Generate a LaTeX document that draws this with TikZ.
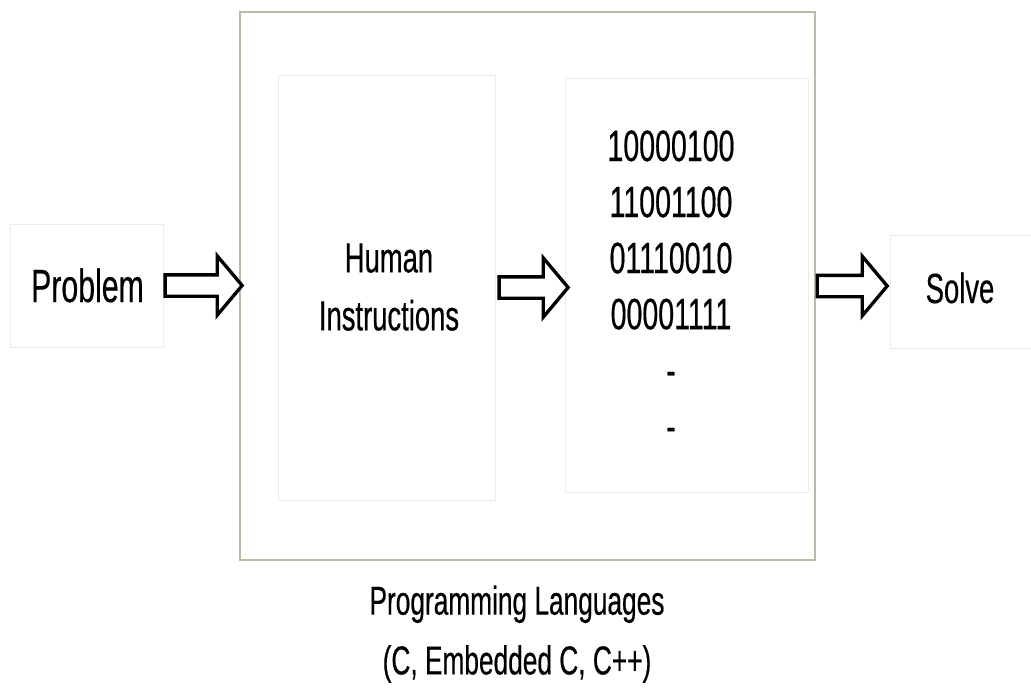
\documentclass[tikz,border=0pt]{standalone}
\usepackage{xcolor}
\usepackage{fontspec}
\setmainfont[FakeStretch=0.65,FakeBold=0.4]{Liberation Sans}
\usepackage{tikz}
\usetikzlibrary{shapes,shapes.arrows,positioning,calc}
\definecolor{frameGray}{RGB}{190,184,168}
\definecolor{faintGray}{RGB}{236,236,236}
\tikzset{
  outerBox/.style={
    rectangle,
    draw=frameGray,
    line width=0.6pt,
    inner sep=0pt
  },
  faintBox/.style={
    rectangle,
    draw=faintGray,
    line width=0.5pt,
    inner sep=0pt
  },
  blockArrow/.style={
    single arrow,
    draw=black,
    fill=white,
    line width=1.9pt,
    inner xsep=0pt,
    inner ysep=0.18cm,
    single arrow head extend=0.38cm,
    single arrow tip angle=100
  },
  labelText/.style={
    inner sep=0pt,
    align=center,
    font=\fontsize{24}{33}\selectfont
  },
  binaryText/.style={
    inner sep=0pt,
    align=center,
    font=\fontsize{25}{31.9}\selectfont
  }
}

\begin{document}
\begin{tikzpicture}
        \useasboundingbox (0,0) rectangle (20.62,-13.76);

        % frames
        \node[faintBox, minimum width=3.06cm, minimum height=2.46cm] (probFrame) at (1.73,-5.71) {};
        \node[outerBox, minimum width=11.5cm, minimum height=10.96cm] (langFrame) at (10.55,-5.72) {};
        \node[faintBox, minimum width=4.34cm, minimum height=8.5cm] (humanFrame) at (7.73,-5.75) {};
        \node[faintBox, minimum width=4.86cm, minimum height=8.28cm] (machineFrame) at (13.73,-5.70) {};
        \node[faintBox, minimum width=3.0cm, minimum height=2.26cm] (solveFrame) at (19.3,-5.83) {};

        % texts
        \node[labelText, anchor=base, font=\fontsize{26.5}{33}\selectfont] (problem) at (1.75,-6.04) {Problem};
        \node[labelText, anchor=north] (human) at (7.78,-4.86) {Human\\Instructions};
        \node[binaryText, anchor=north] (binary) at (13.42,-2.60) {10000100\\11001100\\01110010\\00001111\\-\\-};
        \node[labelText, anchor=base] (solve) at (19.2,-6.06) {Solve};
        \node[labelText, anchor=north, font=\fontsize{23}{34}\selectfont] (langs) at (10.34,-11.70) {Programming Languages\\(C, Embedded C, C++)};

        % block arrows
        \node[blockArrow, minimum height=1.54cm, right=0pt of probFrame] (arrIn) {};
        \node[blockArrow, minimum height=1.38cm, right=0.04cm of humanFrame] (arrMid) {};
        \node[blockArrow, minimum height=1.40cm, right=0pt of langFrame] (arrOut) {};
    \end{tikzpicture}
\end{document}
